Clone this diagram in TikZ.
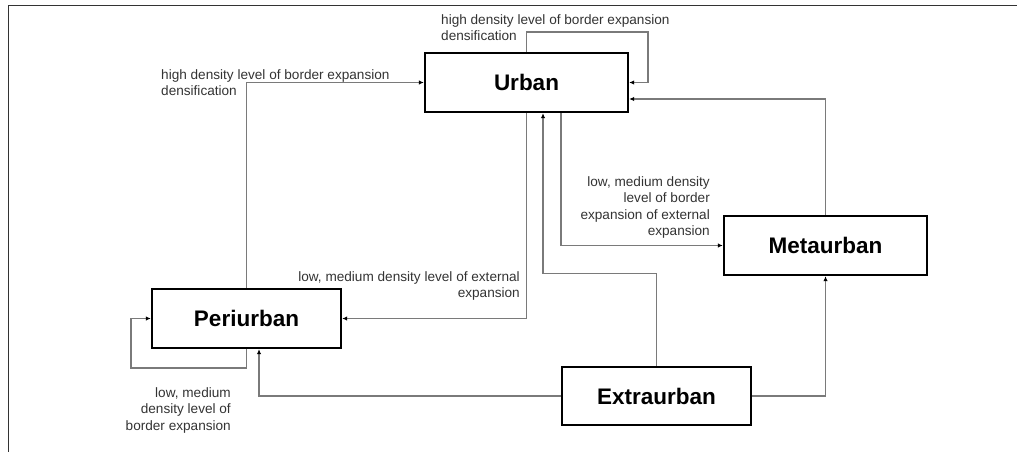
\documentclass[tikz,border=0pt]{standalone}
\usepackage{fontspec}
\setmainfont{Liberation Sans}
\usetikzlibrary{arrows.meta,calc}
\definecolor{linegray}{HTML}{7A7A7A}
\definecolor{labelgray}{HTML}{333333}
\begin{document}
\begin{tikzpicture}[x=1pt,y=-1pt,
  box/.style={draw=black,line width=2.4pt,fill=white,inner sep=0pt,
    font=\fontsize{22.5}{26}\selectfont\bfseries},
  conn/.style={draw=linegray,line width=1.4pt,-{Latex[length=5pt,width=4.5pt,color=black]}},
  plain/.style={draw=linegray,line width=1.4pt},
  lbl/.style={inner sep=0pt,text=labelgray,font=\fontsize{13.6}{16.5}\selectfont}]
\useasboundingbox (0,0) rectangle (1017,452);
\draw[draw=black!80,line width=1.5pt] (8.5,452) -- (8.5,5.5) -- (1017,5.5);

\node[box,minimum width=203pt,minimum height=59pt] (urban) at (526.5,82.5) {Urban};
\node[box,minimum width=189pt,minimum height=59pt] (peri) at (246.5,318.5) {Periurban};
\node[box,minimum width=203pt,minimum height=59pt] (meta) at (825.5,245.5) {Metaurban};
\node[box,minimum width=189pt,minimum height=58pt] (extra) at (656.5,396) {Extraurban};

% labels
\node[lbl,anchor=north west,align=left] (l1) at (441,14) {high density level of border expansion\\densification};
\node[lbl,anchor=north west,align=left] (l2) at (161,69) {high density level of border expansion\\densification};
\node[lbl,anchor=north east,align=right] (l3) at (710,176) {low, medium density\\level of border\\expansion of external\\expansion};
\node[lbl,anchor=north east,align=right] (l4) at (520,271) {low, medium density level of external\\expansion};
\node[lbl,anchor=north east,align=right] (l5) at (231,387) {low, medium\\density level of\\border expansion};

% connectors
\coordinate (uloop) at (648,32);
\draw[conn] (urban.north) |- (uloop) |- (urban.east);
\draw[conn] (meta.north) |- ($(urban.east)+(0,16.5)$);
\draw[conn] (peri.north) |- (urban.west);
\coordinate (ploop) at (131,368);
\draw[conn] (peri.south) |- (ploop) |- (peri.west);
\draw[conn] (urban.south) |- (peri.east);
\draw[conn] (extra.north) |- ($(urban.south)+(16.5,160)$) -- ($(urban.south)+(16.5,0)$);
\draw[conn] ($(urban.south)+(34.5,0)$) |- (meta.west);
\draw[conn] (extra.west) -| ($(peri.south)+(12.5,0)$);
\draw[conn] (extra.east) -| (meta.south);
\end{tikzpicture}
\end{document}
